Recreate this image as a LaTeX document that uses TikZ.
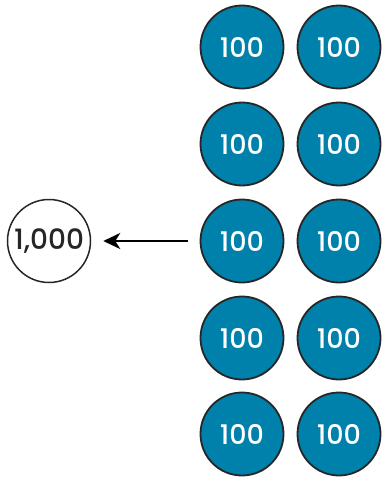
\documentclass[tikz,border=0pt]{standalone}
\usepackage{fontspec}
\setmainfont{Poppins}
\newfontfamily\medfont{Poppins Medium}
\usetikzlibrary{arrows.meta}
\definecolor{coinblue}{RGB}{0,129,171}
\begin{document}
\begin{tikzpicture}[x=1pt,y=-1pt,
  coin/.style={circle,draw=black!85,line width=1.8pt,fill=coinblue,minimum size=83pt,inner sep=0pt,text=white,font=\medfont\fontsize{27}{29}\selectfont},
  bigcoin/.style={circle,draw=black!85,line width=1.5pt,fill=white,minimum size=83pt,inner sep=0pt,text=black!85,font=\medfont\fontsize{28}{30}\selectfont}]
\useasboundingbox (0,0) rectangle (383,477);
\foreach \r/\y in {1/47,2/144,3/241,4/338,5/434}{
  \node[coin] (a\r) at (242,\y) {100};
  \node[coin] (b\r) at (339,\y) {100};
}
\node[bigcoin] (t) at (49,241) {1,000};
\coordinate (s) at (188,241);
\draw[line width=2.2pt,-{Stealth[length=17pt,width=16pt,inset=5pt]}] (s) -- ([xshift=12pt]t.east);
\end{tikzpicture}
\end{document}
